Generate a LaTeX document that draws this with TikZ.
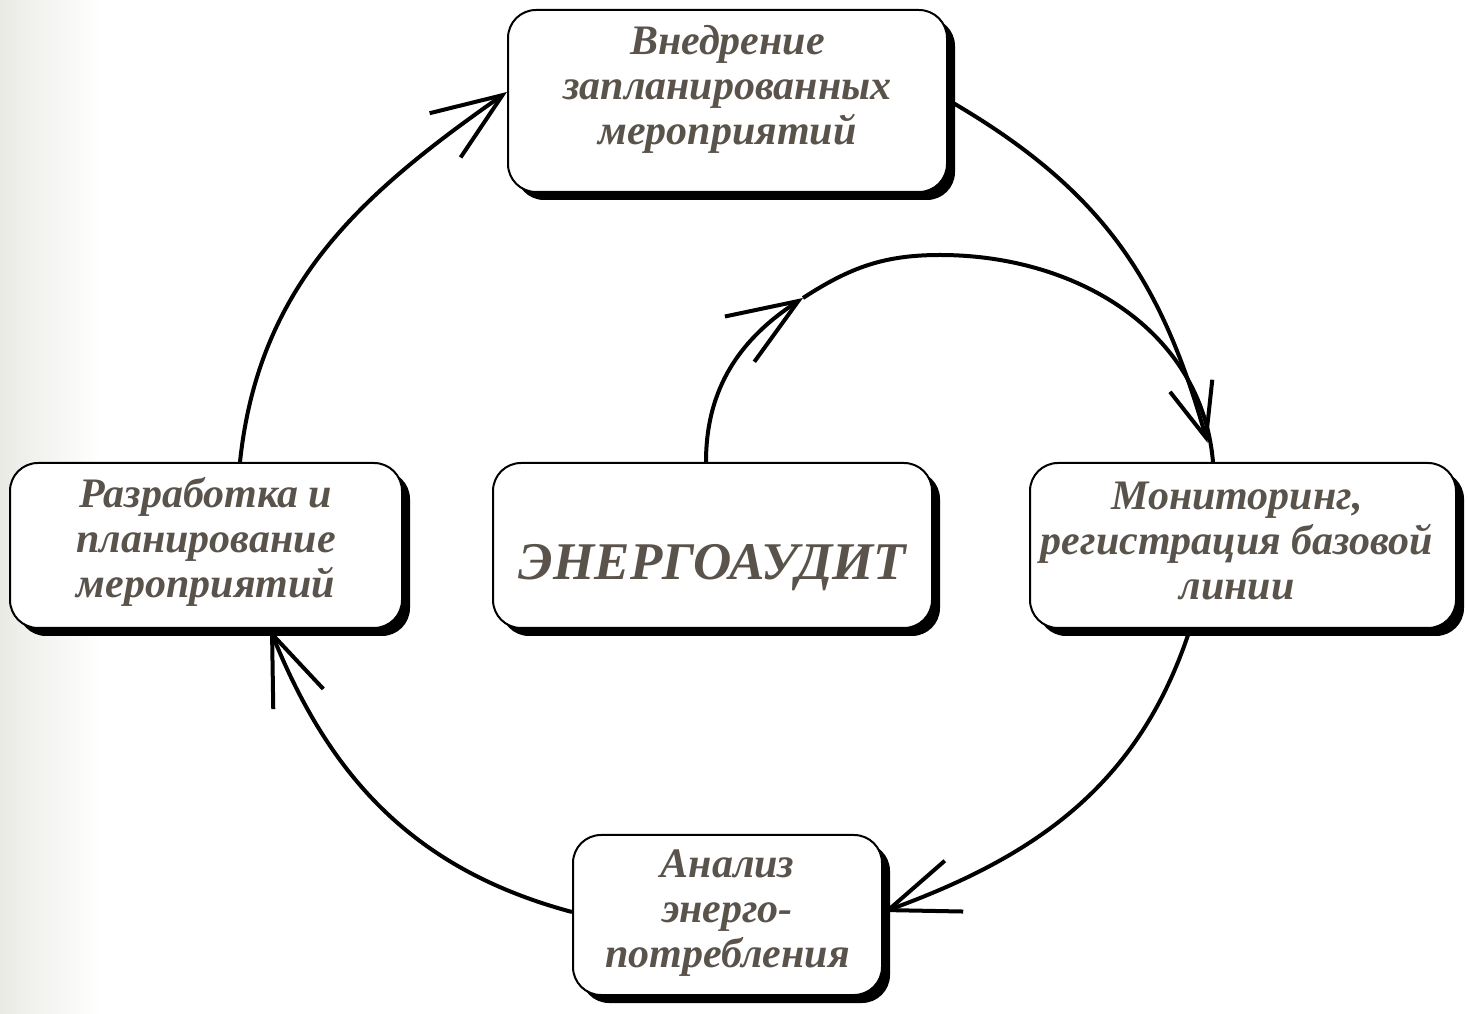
\documentclass[tikz,border=0pt]{standalone}
\usepackage{fontspec}
\setmainfont{Liberation Serif}
\usetikzlibrary{arrows.meta,shadows}
\definecolor{txtc}{RGB}{90,83,75}
\definecolor{bgl}{RGB}{234,234,229}
\begin{document}
\begin{tikzpicture}[x=1pt,y=1pt,
  box/.style={draw=black, line width=2pt, fill=white, rounded corners=28pt,
    drop shadow={shadow xshift=8pt, shadow yshift=-8pt, fill=black, opacity=1}},
  txt/.style={text=txtc, font=\fontsize{42}{45}\selectfont\bfseries\itshape, align=center, inner sep=0pt},
  bigtxt/.style={text=txtc, font=\fontsize{53}{60}\selectfont\bfseries\itshape, inner sep=0pt},
  conn/.style={line width=4pt, -{Straight Barb[length=70pt,width=54pt]}},
  connsmall/.style={line width=4pt, -{Straight Barb[length=54pt,width=44pt]}},
  plain/.style={line width=4pt}
]
\useasboundingbox (0,0) rectangle (1468,1013);
\fill[white] (0,0) rectangle (1468,1013);
\shade[left color=bgl, right color=white] (0,0) rectangle (100,1013);

% boxes
\node[box, minimum width=439pt, minimum height=182pt] (T) at (727.5,912) {};
\node[box, minimum width=392pt, minimum height=165pt] (L) at (206,467.5) {};
\node[box, minimum width=439pt, minimum height=165pt] (C) at (712.5,467.5) {};
\node[box, minimum width=426pt, minimum height=165pt] (R) at (1243,467.5) {};
\node[box, minimum width=309pt, minimum height=160pt] (B) at (727.5,98) {};

% texts
\node[txt] (Tt) at ([yshift=12]T.center) {Внедрение\\запланированных\\мероприятий};
\node[txt] (Lt) at ([yshift=4]L.center) {Разработка и\\планирование\\мероприятий};
\node[bigtxt] (Ct) at ([yshift=-22]C.center) {ЭНЕРГОАУДИТ};
\node[txt] (Rt) at ([xshift=-6,yshift=5]R.center) {Мониторинг,\\регистрация базовой\\линии};
\node[txt] (Bt) at ([yshift=2]B.center) {Анализ\\энерго-\\потребления};

% connectors
\coordinate (m) at (803,715);
\coordinate (pk) at (940,758);
\draw[conn] ([xshift=34]L.north) to[out=84,in=215] ([yshift=9]T.west);
\draw[connsmall, shorten >=20pt] ([yshift=1]T.east) to[out=-30,in=106,looseness=1.05] ([xshift=-30]R.north);
\draw[conn] ([xshift=-6.5]C.north) to[out=90,in=213] (m);
\draw[plain] (m) to[out=33,in=180] (pk) to[out=0,in=95] ([xshift=-30]R.north);
\draw[conn] ([xshift=-53]R.south) to[out=-108,in=20] ([yshift=3]B.east);
\draw[conn] ([yshift=3]B.west) to[out=165,in=-68] ([xshift=64]L.south);
\end{tikzpicture}
\end{document}
